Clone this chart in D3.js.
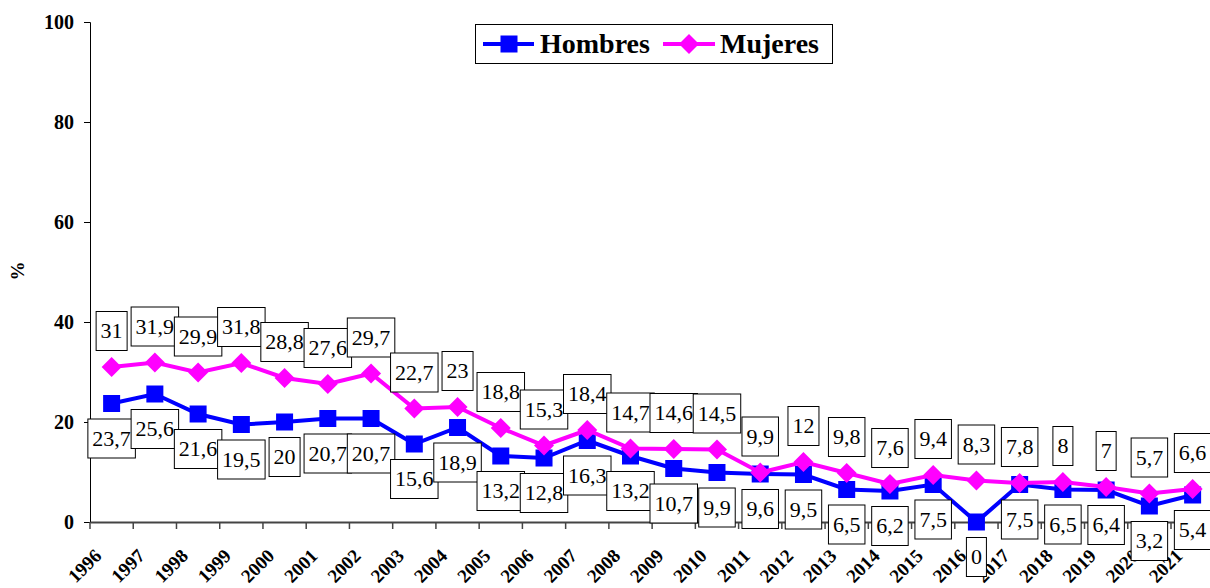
<!DOCTYPE html>
<html>
<head>
<meta charset="utf-8">
<script src="https://cdn.jsdelivr.net/npm/d3@7"></script>
<style>
  body { margin: 0; background: #fff; }
  svg text { font-family: "Liberation Serif", serif; }
</style>
</head>
<body>
<div id="chart"></div>
<script>
// data
const years = ["1996","1997","1998","1999","2000","2001","2002","2003","2004","2005","2006","2007","2008",
  "2009","2010","2011","2012","2013","2014","2015","2016","2017","2018","2019","2020","2021"];
const hombres = [23.7,25.6,21.6,19.5,20,20.7,20.7,15.6,18.9,13.2,12.8,16.3,13.2,10.7,9.9,9.6,9.5,6.5,6.2,7.5,0,7.5,6.5,6.4,3.2,5.4];
const mujeres = [31,31.9,29.9,31.8,28.8,27.6,29.7,22.7,23,18.8,15.3,18.4,14.7,14.6,14.5,9.9,12,9.8,7.6,9.4,8.3,7.8,8,7,5.7,6.6];
const yTicks = [0, 20, 40, 60, 80, 100];
const seriesNames = ["Hombres", "Mujeres"];

const W = 1210, H = 588;
const plotLeft = 90, bandW = 43.24, plotTop = 22, plotBottom = 522;

const svg = d3.select("#chart")
  .append("svg")
    .attr("width", W)
    .attr("height", H)
    .style("display", "block");

const x = d3.scaleBand()
  .domain(years)
  .range([plotLeft, plotLeft + bandW * years.length]);
const y = d3.scaleLinear()
  .domain([0, 100])
  .range([plotBottom, plotTop]);
const cx = d => x(d) + x.bandwidth() / 2;

// y axis
const yAxis = svg.append("g")
  .attr("transform", `translate(${plotLeft},0)`)
  .call(d3.axisLeft(y).tickValues(yTicks).tickSize(6).tickPadding(10).tickFormat(d3.format("d")));
yAxis.attr("font-family", null);
yAxis.select(".domain").attr("stroke", "#000");
yAxis.selectAll("text")
  .attr("font-size", 20)
  .attr("font-weight", "bold")
  .attr("fill", "#000");

// x axis
const xAxis = svg.append("g")
  .attr("transform", `translate(0,${plotBottom})`)
  .call(d3.axisBottom(x).tickSize(0).tickFormat(""));
xAxis.select(".domain").attr("stroke", "#444").attr("stroke-width", 2);
xAxis.selectAll(".tick").remove();
svg.append("g").selectAll("line")
  .data(years)
  .join("line")
    .attr("x1", d => x(d)).attr("x2", d => x(d))
    .attr("y1", plotBottom).attr("y2", plotBottom + 7)
    .attr("stroke", "#444").attr("stroke-width", 1.5);

svg.append("g").selectAll("text")
  .data(years)
  .join("text")
    .attr("transform", d => `translate(${cx(d) - 9},${plotBottom + 35}) rotate(-45)`)
    .attr("text-anchor", "end")
    .attr("font-size", 19)
    .attr("font-weight", "bold")
    .text(d => d);

// y title
svg.append("text")
  .attr("transform", "translate(24,271) rotate(-90)")
  .attr("text-anchor", "middle")
  .attr("font-size", 19)
  .attr("font-weight", "bold")
  .text("%");

// series
const line = d3.line().x((d, i) => cx(years[i])).y(d => y(d));

svg.append("path")
  .datum(hombres)
  .attr("fill", "none")
  .attr("stroke", "#0000ff")
  .attr("stroke-width", 4)
  .attr("d", line);
svg.append("g").selectAll("rect")
  .data(hombres)
  .join("rect")
    .attr("x", (d, i) => cx(years[i]) - 8.5)
    .attr("y", d => y(d) - 8.5)
    .attr("width", 17).attr("height", 17)
    .attr("fill", "#0000ff");

svg.append("path")
  .datum(mujeres)
  .attr("fill", "none")
  .attr("stroke", "#ff00ff")
  .attr("stroke-width", 4)
  .attr("d", line);
const diamond = (px, py, r) => `M${px},${py - r}L${px + r},${py}L${px},${py + r}L${px - r},${py}Z`;
svg.append("g").selectAll("path")
  .data(mujeres)
  .join("path")
    .attr("d", (d, i) => diamond(cx(years[i]), y(d), 10))
    .attr("fill", "#ff00ff");

// data labels in boxes
const fmt = v => String(v).replace(".", ",");
function labels(values, dy) {
  const g = svg.append("g").selectAll("g")
    .data(values)
    .join("g")
      .attr("transform", (d, i) => `translate(${cx(years[i])},${y(d) + dy})`);
  const rects = g.append("rect")
    .attr("fill", "#fff")
    .attr("stroke", "#000")
    .attr("stroke-width", 1);
  const texts = g.append("text")
    .attr("text-anchor", "middle")
    .attr("dy", "0.34em")
    .attr("font-size", 22)
    .text(d => fmt(d));
  texts.each(function(d, i) {
    const w = this.getComputedTextLength() + 9;
    d3.select(rects.nodes()[i])
      .attr("x", -w / 2).attr("y", -19.5)
      .attr("width", w).attr("height", 39);
  });
}
labels(mujeres, -36);
labels(hombres, 35);

// legend
const leg = svg.append("g");
leg.append("rect")
  .attr("x", 475.5).attr("y", 24.5)
  .attr("width", 357).attr("height", 39)
  .attr("fill", "#fff").attr("stroke", "#000");
leg.append("line")
  .attr("x1", 483).attr("x2", 534).attr("y1", 44).attr("y2", 44)
  .attr("stroke", "#0000ff").attr("stroke-width", 4);
leg.append("rect")
  .attr("x", 500.5).attr("y", 35.5).attr("width", 17).attr("height", 17)
  .attr("fill", "#0000ff");
leg.append("text")
  .attr("x", 540).attr("y", 53)
  .attr("font-size", 28).attr("font-weight", "bold")
  .text(seriesNames[0]);
leg.append("line")
  .attr("x1", 663).attr("x2", 715).attr("y1", 44).attr("y2", 44)
  .attr("stroke", "#ff00ff").attr("stroke-width", 4);
leg.append("path")
  .attr("d", diamond(689, 44, 10))
  .attr("fill", "#ff00ff");
leg.append("text")
  .attr("x", 720).attr("y", 53)
  .attr("font-size", 28).attr("font-weight", "bold")
  .text(seriesNames[1]);
</script>
</body>
</html>
